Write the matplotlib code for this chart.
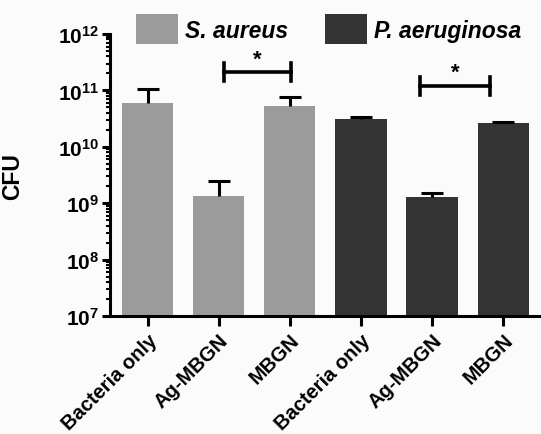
import numpy as np
import matplotlib
matplotlib.use("Agg")
import matplotlib.pyplot as plt
from matplotlib.patches import Patch
from matplotlib.ticker import FixedLocator, LogLocator, NullFormatter

plt.rcParams['font.family'] = ['Liberation Sans', 'DejaVu Sans']
plt.rcParams['font.weight'] = 'bold'
plt.rcParams['mathtext.fontset'] = 'custom'
plt.rcParams['mathtext.rm'] = 'Liberation Sans:bold'
plt.rcParams['mathtext.bf'] = 'Liberation Sans:bold'
plt.rcParams['mathtext.it'] = 'Liberation Sans:bold:italic'

categories = ['Bacteria only', 'Ag-MBGN', 'MBGN', 'Bacteria only', 'Ag-MBGN', 'MBGN']
sa_values = [6.0e10, 1.36e9, 5.4e10]
sa_err_up = [4.6e10, 1.14e9, 2.2e10]
pa_values = [3.1e10, 1.30e9, 2.7e10]
pa_err_up = [0.25e10, 0.2e9, 0.05e10]
series = ['S. aureus', 'P. aeruginosa']
colors = ['#9b9b9b', '#333333']
# significance brackets: (x start, x end, height)
brackets = [(1.07, 2.02, 2.1e11), (3.83, 4.82, 1.2e11)]

fig = plt.figure(figsize=(5.41, 4.35), dpi=100)
fig.patch.set_facecolor('#fbfbfb')
ax = fig.add_axes([0.2033, 0.271, 0.795, 0.6485])
ax.set_facecolor('#fbfbfb')

x = np.arange(len(categories))
vals = sa_values + pa_values
errs = sa_err_up + pa_err_up
cols = [colors[0]] * 3 + [colors[1]] * 3
ax.bar(x, vals, width=0.72, color=cols, zorder=2)
eb = ax.errorbar(x, vals, yerr=[np.zeros(len(errs)), errs], fmt='none',
                 ecolor='black', elinewidth=2.2, capsize=8, capthick=2.2, zorder=3)
# only the upper caps are shown
eb[1][0].set_visible(False)

ax.set_yscale('log')
ax.set_ylim(1e7, 1e12)
ax.set_xlim(-0.53, 5.52)
ax.yaxis.set_major_locator(FixedLocator([1e7, 1e8, 1e9, 1e10, 1e11, 1e12]))
ax.yaxis.set_minor_locator(LogLocator(base=10, subs=np.arange(2, 10)))
ax.yaxis.set_minor_formatter(NullFormatter())
ax.set_yticklabels([r'$10^{%d}$' % e for e in range(7, 13)], fontsize=15)

ax.set_xticks(x)
ax.set_xticklabels(categories, rotation=45, ha='right', rotation_mode='anchor',
                   fontsize=14.5, fontweight='bold')
ax.set_ylabel('CFU', fontsize=16.5, fontweight='bold')
ax.yaxis.set_label_coords(-0.2, 0.5)

for s in ['top', 'right']:
    ax.spines[s].set_visible(False)
for s in ['left', 'bottom']:
    ax.spines[s].set_linewidth(2.2)
ax.tick_params(axis='y', which='major', length=6, width=2.2, pad=2)
ax.tick_params(axis='y', which='minor', length=3, width=1.5)
ax.tick_params(axis='x', which='major', length=7, width=2.2, pad=3)

for x0, x1, h in brackets:
    ax.plot([x0, x1], [h, h], color='black', lw=2.6, zorder=4)
    ax.plot([x0, x0], [h / 1.45, h * 1.45], color='black', lw=2.6, zorder=4)
    ax.plot([x1, x1], [h / 1.45, h * 1.45], color='black', lw=2.6, zorder=4)
    ax.text((x0 + x1) / 2, h * 1.12, '*', ha='center', va='bottom',
            fontsize=16, fontweight='bold')

handles = [Patch(facecolor=c, edgecolor='none') for c in colors]
leg = fig.legend(handles, series, loc='upper left', bbox_to_anchor=(0.213, 1.012),
                 ncol=2, frameon=False, handlelength=1.85, handleheight=1.6,
                 handletextpad=0.3, columnspacing=1.6,
                 prop={'size': 16.5, 'weight': 'bold', 'style': 'italic'})

fig.savefig('out.png', dpi=100, facecolor=fig.get_facecolor())
